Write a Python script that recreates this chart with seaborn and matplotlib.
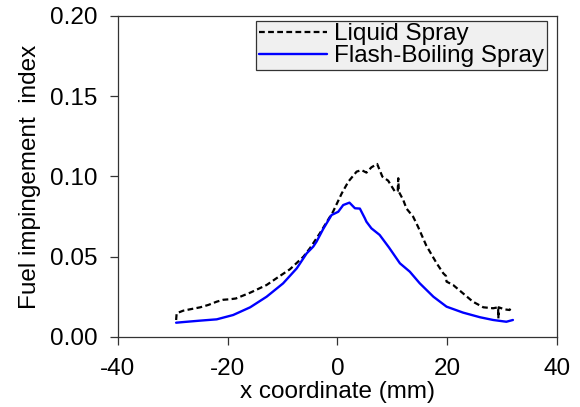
import numpy as np
import pandas as pd
import matplotlib
matplotlib.use("Agg")
import matplotlib.pyplot as plt
from matplotlib.ticker import FormatStrFormatter
import seaborn as sns

# Liquid spray (black dashed)
liquid_x = [-29.4, -29.3, -28.1, -26.5, -25.0, -23.5, -22.0, -20.8, -19.6, -18.5,
            -17.2, -15.9, -14.4, -12.9, -11.1, -8.65, -6.2, -5.0, -3.2, -0.8,
            0.8, 2.0, 3.5, 4.4, 5.3, 6.2, 7.25, 8.2, 9.25, 10.5,
            11.0, 11.1, 11.2, 12.0, 12.6, 13.8, 14.7, 16.2, 18.1, 19.3,
            19.8, 19.9, 21.1, 22.9, 24.7, 26.6, 28.4, 29.3, 29.35, 29.4,
            30.5, 31.4, 31.7]
liquid_y = [0.0106, 0.0148, 0.0164, 0.0175, 0.0185, 0.0200, 0.0220, 0.0232, 0.0235, 0.0240,
            0.0258, 0.0276, 0.0300, 0.0324, 0.0366, 0.0422, 0.0500, 0.0553, 0.0646, 0.0780,
            0.0895, 0.0968, 0.1030, 0.1040, 0.1024, 0.1057, 0.1078, 0.0999, 0.0974, 0.0905,
            0.0910, 0.0989, 0.0905, 0.0854, 0.0800, 0.0750, 0.0687, 0.0570, 0.0459, 0.0397,
            0.0380, 0.0345, 0.0324, 0.0272, 0.0220, 0.0185, 0.0179, 0.0185, 0.0116, 0.0185,
            0.0172, 0.0168, 0.0189]

# Flash-boiling spray (blue solid)
flash_x = [-29.4, -28.1, -25.0, -22.0, -19.0, -15.9, -12.9, -9.9, -7.4, -5.6,
           -4.4, -3.8, -2.6, -1.06, 0.15, 1.06, 2.2, 3.2, 4.1, 5.0,
           5.3, 6.2, 7.7, 9.4, 11.4, 13.2, 15.0, 17.5, 19.9, 22.9,
           26.0, 28.4, 30.8, 32.0]
flash_y = [0.0089, 0.0093, 0.0102, 0.0110, 0.0137, 0.0185, 0.0251, 0.0334, 0.0428, 0.0521,
           0.0563, 0.0594, 0.0672, 0.0760, 0.0780, 0.0822, 0.0837, 0.0802, 0.0800, 0.0740,
           0.0718, 0.0677, 0.0636, 0.0558, 0.0459, 0.0407, 0.0335, 0.0251, 0.0189, 0.0152,
           0.0123, 0.0106, 0.0095, 0.0106]

x_ticks = [-40, -20, 0, 20, 40]
y_ticks = [0.00, 0.05, 0.10, 0.15, 0.20]

sns.set_style("white")
plt.rcParams['font.family'] = ['Liberation Sans', 'DejaVu Sans']
plt.rcParams['axes.unicode_minus'] = False
plt.rcParams['text.color'] = 'black'
plt.rcParams['axes.labelcolor'] = 'black'
plt.rcParams['xtick.color'] = 'black'
plt.rcParams['ytick.color'] = 'black'

fig = plt.figure(figsize=(5.8, 4.07), dpi=100)
ax = fig.add_axes([0.2034, 0.172, 0.7566, 0.7888])

sns.lineplot(x=liquid_x, y=liquid_y, ax=ax, estimator=None, sort=False,
             color='black', linewidth=1.6, linestyle=(0, (2.6, 1.5)),
             label='Liquid Spray')
sns.lineplot(x=flash_x, y=flash_y, ax=ax, estimator=None, sort=False,
             color='#0000ff', linewidth=1.7, label='Flash-Boiling Spray')

ax.set_xlim(-40, 40)
ax.set_ylim(0, 0.2)
ax.set_xticks(x_ticks)
ax.set_yticks(y_ticks)
ax.yaxis.set_major_formatter(FormatStrFormatter('%.2f'))

for s in ax.spines.values():
    s.set_color('#333333')
    s.set_linewidth(0.9)

ax.tick_params(axis='both', which='major', direction='out', length=6,
               width=0.9, color='#333333', labelcolor='black', labelsize=17.5,
               pad=9, bottom=True, left=True, top=False, right=False)

ax.set_xlabel('x coordinate (mm)', fontsize=17.5, labelpad=1, color='black')
ax.set_ylabel('Fuel impingement  index', fontsize=17.5, labelpad=6, color='black')

leg = ax.legend(loc='upper right', bbox_to_anchor=(0.977, 0.985),
                borderaxespad=0, fontsize=17.5, frameon=True, fancybox=False,
                framealpha=1, facecolor='#f0f0f0', edgecolor='#333333',
                handlelength=2.8, handletextpad=0.3, labelspacing=0.0,
                borderpad=0.1)
leg.get_frame().set_linewidth(0.9)
for t in leg.get_texts():
    t.set_color('black')

fig.savefig('out.png', dpi=100)
